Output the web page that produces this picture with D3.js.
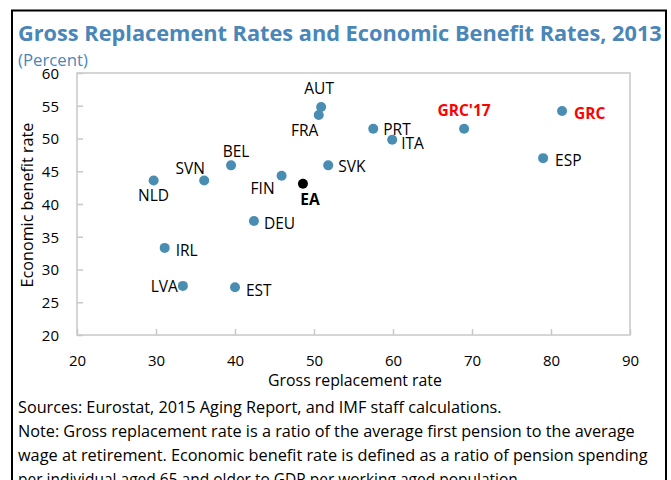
<!DOCTYPE html>
<html><head><meta charset="utf-8">
<script src="https://cdn.jsdelivr.net/npm/d3@7"></script>
<style>body{margin:0;background:#fff}svg{display:block}</style>
</head><body>
<svg id="c" width="671" height="480"></svg>
<script>
const countries = ["AUT","FRA","BEL","SVN","NLD","FIN","EA","SVK","DEU","IRL","LVA","EST","PRT","ITA","GRC'17","GRC","ESP"];
const grossReplacement = [50.9,50.6,39.5,36.1,29.7,45.9,48.6,51.8,42.4,31.1,33.4,40.0,57.5,59.9,69.0,81.4,79.0];
const economicBenefit = [54.8,53.6,45.9,43.6,43.6,44.3,43.1,45.9,37.4,33.3,27.5,27.3,51.5,49.8,51.5,54.2,47.0];
const xTicks = [20,30,40,50,60,70,80,90];
const yTicks = [20,25,30,35,40,45,50,55,60];

// label placement (offsets in px from point, anchor)
const labelPos = {
  "AUT":[-2,-13,"middle"],"FRA":[-14,21,"middle"],"BEL":[5,-8,"middle"],"SVN":[-14,-6,"middle"],
  "NLD":[0,21,"middle"],"FIN":[-19,18,"middle"],"EA":[7,21,"middle"],"SVK":[10,7,"start"],
  "DEU":[10,8,"start"],"IRL":[11,8,"start"],"LVA":[-5,6,"end"],"EST":[11,9,"start"],
  "PRT":[10,6,"start"],"ITA":[9,9,"start"],"GRC'17":[0,-13,"middle"],"GRC":[12,8,"start"],"ESP":[12,8,"start"]
};

const svg = d3.select("#c");
const font = "'Open Sans', 'Noto Sans', sans-serif";
const blue = "#4a86b8";
function fit(sel, base, width){ const w = sel.node().getComputedTextLength(); sel.attr("font-size", base*width/w); return sel; }

svg.append("rect").attr("x",12).attr("y",10.5).attr("width",654).attr("height",480).attr("fill","none").attr("stroke","#000").attr("stroke-width",2);

fit(svg.append("text").attr("x",18).attr("y",41).attr("font-family",font).attr("font-weight","bold")
  .attr("font-size",21).attr("fill",blue).text("Gross Replacement Rates and Economic Benefit Rates, 2013"),21,644);

fit(svg.append("text").attr("x",18).attr("y",66).attr("font-family",font).attr("font-size",14).attr("fill",blue).text("(Percent)"),14,70);

const x = d3.scaleLinear().domain([20,90]).range([77,630]);
const y = d3.scaleLinear().domain([20,60]).range([335,73]);

svg.append("rect").attr("x",77).attr("y",73).attr("width",553).attr("height",262).attr("fill","none").attr("stroke","#c8c8c8").attr("stroke-width",1.5);

const xAxis = svg.append("g").attr("transform","translate(0,335)")
  .call(d3.axisBottom(x).tickValues(xTicks).tickSize(-6).tickPadding(20));
const yAxis = svg.append("g").attr("transform","translate(77,0)")
  .call(d3.axisLeft(y).tickValues(yTicks).tickSize(-6).tickPadding(18));
[xAxis,yAxis].forEach(a=>{
  a.select(".domain").remove();
  a.selectAll("line").attr("stroke","#c8c8c8").attr("stroke-width",1.5);
  a.selectAll("text").attr("font-family",font).attr("font-size",15).attr("fill","#000");
});
yAxis.selectAll("text").attr("dy","0.35em");

fit(svg.append("text").attr("x",355).attr("y",386).attr("text-anchor","middle").attr("font-family",font).attr("font-size",14).text("Gross replacement rate"),14,174);
fit(svg.append("text").attr("transform","translate(33,205) rotate(-90)").attr("text-anchor","middle").attr("font-family",font).attr("font-size",14).text("Economic benefit rate"),14,165);

const data = countries.map((c,i)=>({c, gx:grossReplacement[i], eb:economicBenefit[i]}));
const colorOf = c => c==="EA" ? "#000" : "#4a8db3";
svg.append("g").selectAll("circle").data(data).join("circle")
  .attr("cx",d=>x(d.gx)).attr("cy",d=>y(d.eb)).attr("r",5).attr("fill",d=>colorOf(d.c));

svg.append("g").selectAll("text").data(data).join("text")
  .attr("x",d=>x(d.gx)+labelPos[d.c][0]).attr("y",d=>y(d.eb)+labelPos[d.c][1])
  .attr("text-anchor",d=>labelPos[d.c][2])
  .attr("font-family",font).attr("font-size",d=>(d.c==="EA"||d.c.startsWith("GRC"))?15.5:15.5)
  .attr("font-weight",d=>(d.c==="EA"||d.c.startsWith("GRC"))?"bold":"normal")
  .attr("fill",d=>d.c.startsWith("GRC")?"#ff0000":"#000")
  .text(d=>d.c);

const notes = ["Sources: Eurostat, 2015 Aging Report, and IMF staff calculations.",
  "Note: Gross replacement rate is a ratio of the average first pension to the average",
  "wage at retirement. Economic benefit rate is defined as a ratio of pension spending",
  "per individual aged 65 and older to GDP per working aged population."];
const noteWidths = [484,617,630,null];
notes.forEach((t,i)=>{
  const n = svg.append("text").attr("x",18).attr("y",413+i*24).attr("font-family",font).attr("font-size",15.5).text(t);
  if(noteWidths[i]) fit(n,15.5,noteWidths[i]);
});
</script>
</body></html>
